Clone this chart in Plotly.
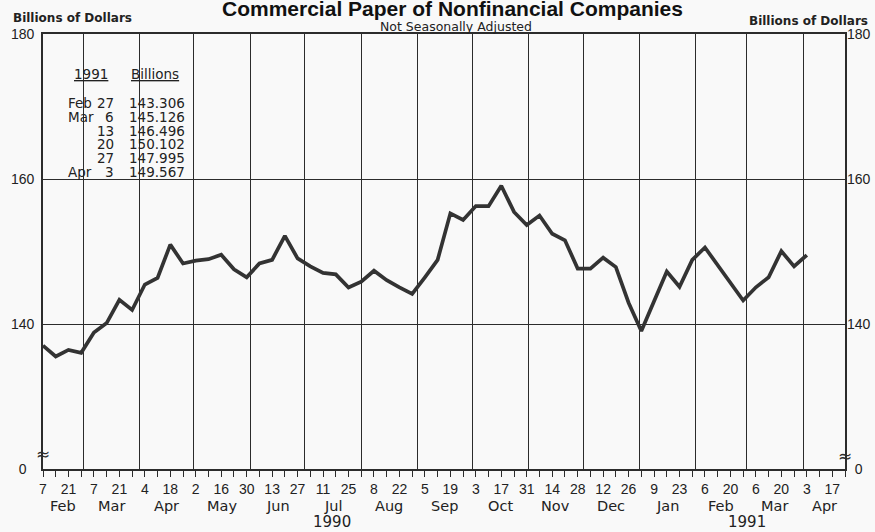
import plotly.graph_objects as go
import pandas as pd

# ---------------- data ----------------
series_start = "1990-02-07"          # first weekly observation (Wednesday)
values = [
    137.1, 135.6, 136.5, 136.1,                 # Feb 1990
    138.9, 140.2, 143.4, 142.0,                 # Mar
    145.5, 146.4, 151.0, 148.4,                 # Apr
    148.8, 149.0, 149.6, 147.6, 146.5,          # May
    148.4, 148.9, 152.2, 149.1,                 # Jun
    148.0, 147.1, 146.9, 145.1,                 # Jul
    145.9, 147.4, 146.1, 145.1, 144.2,          # Aug
    146.5, 148.9, 155.3, 154.4,                 # Sep
    156.3, 156.3, 159.1, 155.5, 153.7,          # Oct
    155.0, 152.5, 151.6, 147.7,                 # Nov
    147.7, 149.2, 147.9, 143.0,                 # Dec
    139.1, 143.2, 147.3, 145.2, 148.9,          # Jan 1991
    150.6, 148.2, 145.9, 143.306,               # Feb
    145.126, 146.496, 150.102, 147.995,         # Mar
    149.567,                                    # Apr
]

x_range = ["1990-02-07", "1991-04-24"]
x_tick_labels = ["7", "21", "7", "21", "4", "18", "2", "16", "30", "13", "27",
                 "11", "25", "8", "22", "5", "19", "3", "17", "31", "14", "28",
                 "12", "26", "9", "23", "6", "20", "6", "20", "3", "17"]
month_labels = ["Feb", "Mar", "Apr", "May", "Jun", "Jul", "Aug", "Sep", "Oct",
                "Nov", "Dec", "Jan", "Feb", "Mar", "Apr"]
year_labels = ["1990", "1991"]
year_anchor_dates = ["1990-07-16", "1991-03-01"]

y_bottom = 120.1                      # broken axis: bottom of frame labelled 0
y_tick_vals = [y_bottom, 140, 160, 180]
y_tick_text_left = ["0\u2007", "140", "160", "180"]
y_tick_text_right = ["\u20070", "140", "160", "180"]

table_months = ["Feb", "Mar", "", "", "", "Apr"]
table_days = ["27", "6", "13", "20", "27", "3"]
table_values = values[-6:]

# ---------------- derived ----------------
dates = pd.date_range(series_start, periods=len(values), freq="7D")
tick_dates = pd.date_range("1990-02-07", periods=len(x_tick_labels), freq="14D")
r0, r1 = pd.Timestamp(x_range[0]), pd.Timestamp(x_range[1])
month_starts = pd.date_range("1990-02-01", periods=len(month_labels), freq="MS")
month_centers = []
for ms in month_starts:
    me = ms + pd.offsets.MonthBegin(1)
    a, b = max(ms, r0), min(me, r1)
    month_centers.append(a + (b - a) / 2)
grid_dates = month_starts[1:]

# ---------------- layout helpers (pixels -> paper) ----------------
L, R, T, B = 43, 30, 34, 63
W, H = 875, 532
PW, PH = W - L - R, H - T - B


def px(xp):
    return (xp - L) / PW


def py(yp):
    return (H - B - yp) / PH


BG = "#f9f9f9"
INK = "#2c2c2c"
NUMF = "Liberation Sans, Arial, sans-serif"
ROUND = "DejaVu Sans, Verdana, sans-serif"

fig = go.Figure()
fig.add_trace(go.Scatter(
    x=dates, y=values, mode="lines",
    line=dict(color="#333333", width=3.7),
    showlegend=False, hoverinfo="skip",
))
# invisible companion trace so the overlay axes (month grid / right scale) render
fig.add_trace(go.Scatter(
    x=dates, y=values, mode="lines", xaxis="x2", yaxis="y2",
    line=dict(color="rgba(0,0,0,0)", width=0),
    showlegend=False, hoverinfo="skip",
))

fig.update_layout(
    width=W, height=H,
    margin=dict(l=L, r=R, t=T, b=B, autoexpand=False),
    paper_bgcolor=BG, plot_bgcolor=BG,
    xaxis=dict(
        type="date", range=x_range, automargin=False,
        tickmode="array", tickvals=tick_dates, ticktext=x_tick_labels,
        ticks="outside", ticklen=6, tickwidth=1.3, tickcolor=INK,
        tickfont=dict(family=NUMF, size=14, color="#222"),
        minor=dict(ticks="outside", ticklen=6, tickwidth=1.3, tickcolor=INK,
                   dtick=7 * 86400000, tick0=series_start, showgrid=False),
        showgrid=False, zeroline=False,
        showline=True, linecolor=INK, linewidth=1.6, mirror=True,
    ),
    xaxis2=dict(
        type="date", range=x_range, overlaying="x", side="bottom", automargin=False,
        tickmode="array", tickvals=grid_dates,
        showticklabels=False, ticks="",
        showgrid=True, gridcolor=INK, gridwidth=1.3,
        showline=False, zeroline=False,
    ),
    yaxis=dict(
        range=[y_bottom, 180], automargin=False,
        tickmode="array", tickvals=y_tick_vals, ticktext=y_tick_text_left,
        ticks="", ticklabelstandoff=4,
        tickfont=dict(family=NUMF, size=14, color="#222"),
        showgrid=True, gridcolor=INK, gridwidth=1.3, zeroline=False,
        showline=True, linecolor=INK, linewidth=1.6, mirror=True,
    ),
    yaxis2=dict(
        range=[y_bottom, 180], overlaying="y", side="right", automargin=False,
        tickmode="array", tickvals=y_tick_vals, ticktext=y_tick_text_right,
        ticks="", ticklabelstandoff=1,
        tickfont=dict(family=NUMF, size=14, color="#222"),
        showgrid=False, zeroline=False, showline=False,
    ),
)

# inset table background (covers the grid)
fig.add_shape(type="rect", xref="paper", yref="paper",
              x0=px(50), x1=px(192), y0=py(192), y1=py(45),
              fillcolor=BG, line=dict(width=0), layer="between")

ann = []
# title & subtitle
ann.append(dict(text="<b>Commercial Paper of Nonfinancial Companies</b>",
                x=px(452), y=py(8), xanchor="center", yanchor="middle",
                font=dict(family="Liberation Sans, Arial, sans-serif", size=21, color="#111")))
ann.append(dict(text="Not Seasonally Adjusted", x=px(456), y=py(26.5),
                xanchor="center", yanchor="middle",
                font=dict(family=ROUND, size=12.5, color="#222")))
ann.append(dict(text="<b>Billions of Dollars</b>", x=px(11), y=py(18),
                xanchor="left", yanchor="middle",
                font=dict(family=ROUND, size=12, color="#222")))
ann.append(dict(text="<b>Billions of Dollars</b>", x=px(870), y=py(21),
                xanchor="right", yanchor="middle",
                font=dict(family=ROUND, size=12, color="#222")))

# month and year labels under the axis
for lab, c in zip(month_labels, month_centers):
    ann.append(dict(text=lab, x=c, xref="x", y=py(506), xanchor="center", yanchor="middle",
                    font=dict(family=ROUND, size=14.5, color="#222")))
for lab, d in zip(year_labels, year_anchor_dates):
    ann.append(dict(text=lab, x=d, xref="x", y=py(522), xanchor="center", yanchor="middle",
                    font=dict(family=ROUND, size=15, color="#222")))

# axis break marks
ann.append(dict(text="≈", x=0, y=py(454), xanchor="center", yanchor="middle",
                font=dict(family=ROUND, size=17, color=INK)))
ann.append(dict(text="≈", x=1, y=py(456), xanchor="center", yanchor="middle",
                font=dict(family=ROUND, size=17, color=INK)))

# inset table
tfont = dict(family=ROUND, size=13.5, color="#222")
ann.append(dict(text="<u>1991</u>", x=px(90.5), y=py(73.5), xanchor="center",
                yanchor="middle", font=tfont))
ann.append(dict(text="<u>Billions</u>", x=px(154.5), y=py(73.5), xanchor="center",
                yanchor="middle", font=tfont))
for i, (m, d, v) in enumerate(zip(table_months, table_days, table_values)):
    yy = py(102.8 + i * 13.85)
    if m:
        ann.append(dict(text=m, x=px(66), y=yy, xanchor="left", yanchor="middle", font=tfont))
    ann.append(dict(text=d, x=px(116), y=yy, xanchor="right", yanchor="middle", font=tfont))
    ann.append(dict(text=f"{v:.3f}", x=px(187), y=yy, xanchor="right", yanchor="middle", font=tfont))

for a in ann:
    a.setdefault("xref", "paper")
    a.setdefault("yref", "paper")
    a["showarrow"] = False
fig.update_layout(annotations=ann)

fig.write_html(
    "out.html",
    config={"displayModeBar": False},
    post_script="document.body.style.margin='0px';document.body.style.padding='0px';",
)
